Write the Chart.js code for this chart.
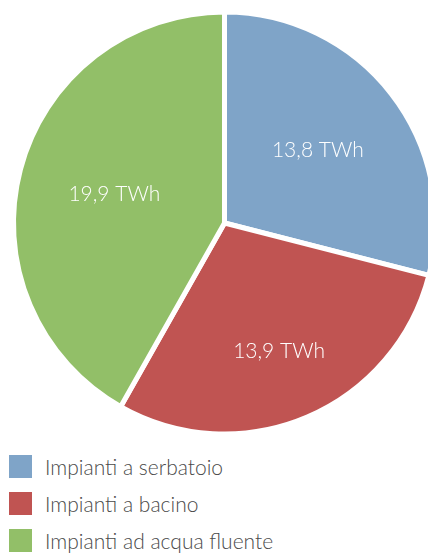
<!DOCTYPE html>
<html>
<head>
<meta charset="utf-8">
<script src="https://cdn.jsdelivr.net/npm/chart.js@4"></script>
<style>
  html, body { margin: 0; padding: 0; background: #fff; }
  #wrap { position: relative; width: 428px; height: 554px; overflow: hidden; }
  #pieBox { position: absolute; left: 0; top: 0; width: 450px; height: 440px; }
  #legend { position: absolute; left: 9px; top: 455px; font-family: "Lato", "Open Sans", sans-serif; font-weight: 300; }
  .item { display: flex; align-items: center; height: 23px; margin-bottom: 14px; }
  .sw { width: 23px; height: 23px; margin-right: 13px; }
  .lbl { font-size: 21px; color: #4a4a4a; white-space: nowrap; }
</style>
</head>
<body>
<div id="wrap">
  <div id="pieBox"><canvas id="c" width="450" height="440"></canvas></div>
  <div id="legend"></div>
</div>
<script>
// Hydroelectric production by plant type (TWh)
const categories = ["Impianti a serbatoio", "Impianti a bacino", "Impianti ad acqua fluente"];
const production = [13.8, 13.9, 19.9];
const colors = ["#7fa4c8", "#c05452", "#92bf68"];

// where each value label sits along its slice radius (0 = centre, 1 = rim)
const labelRadius = [0.56, 0.66, 0.54];

const fmt = v => v.toFixed(1).replace(".", ",") + " TWh";

const sliceLabels = {
  id: "sliceLabels",
  afterDatasetsDraw(chart) {
    const ctx = chart.ctx;
    const meta = chart.getDatasetMeta(0);
    ctx.save();
    ctx.fillStyle = "#ffffff";
    ctx.font = "300 21px Lato, 'Open Sans', sans-serif";
    ctx.textAlign = "center";
    ctx.textBaseline = "middle";
    meta.data.forEach((arc, i) => {
      const p = arc.getProps(["x", "y", "startAngle", "endAngle", "outerRadius"], true);
      const mid = (p.startAngle + p.endAngle) / 2;
      const r = p.outerRadius * labelRadius[i];
      ctx.fillText(fmt(production[i]), p.x + Math.cos(mid) * r, p.y + Math.sin(mid) * r);
    });
    ctx.restore();
  }
};

new Chart(document.getElementById("c"), {
  type: "pie",
  data: {
    labels: categories,
    datasets: [{
      data: production,
      backgroundColor: colors,
      borderColor: "#ffffff",
      borderWidth: 5,
      hoverOffset: 0
    }]
  },
  options: {
    responsive: false,
    animation: false,
    layout: { padding: { left: 11, right: 12, top: 9.5, bottom: 3.5 } },
    plugins: {
      legend: { display: false },
      tooltip: { enabled: false }
    }
  },
  plugins: [sliceLabels]
});

// legend built from the same series
const legend = document.getElementById("legend");
categories.forEach((name, i) => {
  const row = document.createElement("div");
  row.className = "item";
  const sw = document.createElement("div");
  sw.className = "sw";
  sw.style.background = colors[i];
  const t = document.createElement("span");
  t.className = "lbl";
  t.textContent = name;
  row.appendChild(sw);
  row.appendChild(t);
  legend.appendChild(row);
});
</script>
</body>
</html>
